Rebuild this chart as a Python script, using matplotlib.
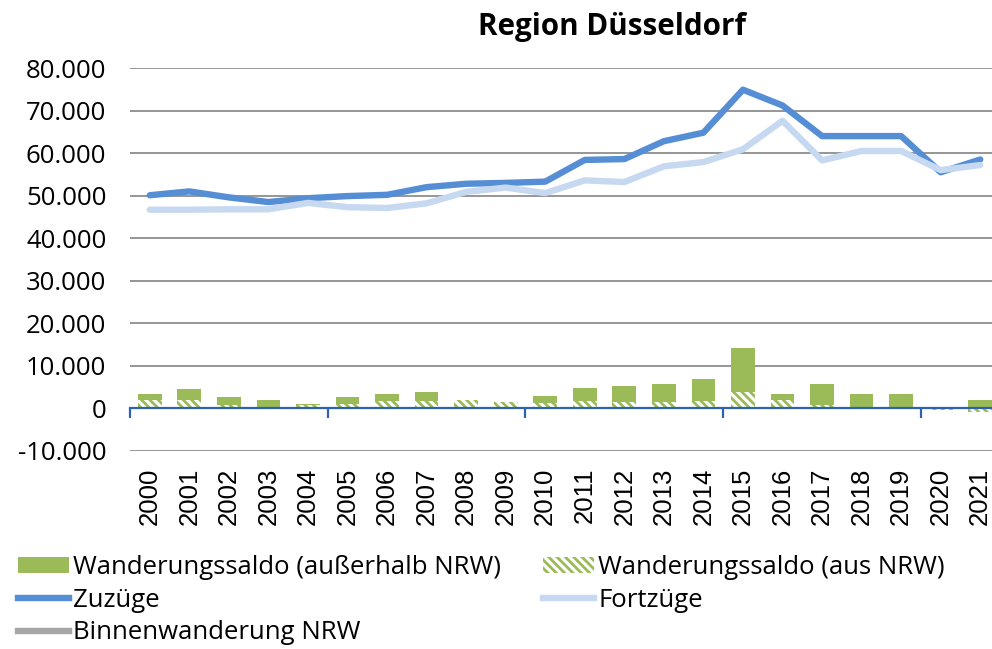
import numpy as np
import matplotlib
matplotlib.use("Agg")
import matplotlib.pyplot as plt
from matplotlib.patches import Patch
from matplotlib.lines import Line2D
from matplotlib.ticker import FuncFormatter, FixedLocator

# ---------------- data ----------------
years = [str(y) for y in range(2000, 2022)]
zuzuege = [50100, 51000, 49600, 48500, 49400, 49900, 50200, 52000, 52800, 53000, 53300,
           58400, 58600, 62800, 64800, 74900, 71200, 64000, 64000, 64000, 55500, 58500]
fortzuege = [46700, 46700, 46800, 46800, 48300, 47300, 47100, 48200, 50900, 51900, 50600,
             53600, 53200, 56900, 57900, 60900, 67600, 58300, 60500, 60500, 56000, 57200]
saldo_ausserhalb = [1400, 2600, 1900, 1900, 200, 1700, 1600, 2000, 0, 0, 1800,
                    3050, 3850, 4300, 5250, 10400, 1400, 5000, 2900, 3350, -100, 2000]
saldo_aus = [1950, 1950, 800, 100, 800, 1000, 1800, 1800, 2000, 1400, 1200,
             1650, 1500, 1500, 1650, 3850, 2100, 700, 400, 0, -300, -800]
y_ticks = list(range(-10000, 80001, 10000))

title = "Region Düsseldorf"
lbl_ausserhalb = "Wanderungssaldo (außerhalb NRW)"
lbl_aus = "Wanderungssaldo (aus NRW)"
lbl_zu = "Zuzüge"
lbl_fort = "Fortzüge"
lbl_binnen = "Binnenwanderung NRW"

# ---------------- style ----------------
c_bar = "#9BBB59"
c_zu = "#558ED5"
c_fort = "#C6D9F1"
c_binnen = "#A6A6A6"
c_axis = "#2E62B0"
c_grid = "#8E8E8E"
fs = 18.5
yfont = ["Open Sans", "DejaVu Sans"]
xfont = ["Liberation Sans", "DejaVu Sans"]
plt.rcParams["hatch.linewidth"] = 2.0
hatch_pat = "\\\\\\\\"

W, H = 992, 649
fig = plt.figure(figsize=(W / 100, H / 100), dpi=100)
ax = fig.add_axes([130 / W, (H - 451) / H, 870 / W, (451 - 68) / H])

x = np.arange(len(years))
aus = np.array(saldo_aus, dtype=float)
ausser = np.array(saldo_ausserhalb, dtype=float)
bottom_solid = np.where(ausser >= 0, np.maximum(aus, 0), np.minimum(aus, 0))

ax.bar(x, aus, width=0.6, color="white", edgecolor=c_bar, hatch=hatch_pat, linewidth=0, zorder=2)
ax.bar(x, ausser, bottom=bottom_solid, width=0.6, color=c_bar, linewidth=0, zorder=2)

ax.plot(x, zuzuege, color=c_zu, lw=4.6, solid_joinstyle="round", solid_capstyle="round", zorder=3)
ax.plot(x, fortzuege, color=c_fort, lw=4.6, solid_joinstyle="round", solid_capstyle="round", zorder=4)

ax.set_xlim(-0.5, len(years) - 0.5)
ax.set_ylim(-10000, 80000)
ax.set_yticks(y_ticks)
ax.yaxis.set_major_formatter(FuncFormatter(lambda v, p: f"{v:,.0f}".replace(",", ".")))
ax.grid(axis="y", color=c_grid, lw=1.3, zorder=0)
ax.set_axisbelow(True)
ax.tick_params(axis="y", length=0, pad=17)
for t in ax.get_yticklabels():
    t.set_fontfamily(yfont)
    t.set_fontsize(fs)

for s in ["top", "right", "left"]:
    ax.spines[s].set_visible(False)
ax.spines["bottom"].set_position(("data", 0))
ax.spines["bottom"].set_color(c_axis)
ax.spines["bottom"].set_linewidth(1.6)
ax.spines["bottom"].set_zorder(5)
ax.xaxis.set_major_locator(FixedLocator(np.arange(-0.5, len(years), 5)))
ax.tick_params(axis="x", direction="out", length=7, width=1.6, color=c_axis, labelbottom=False)

sec = ax.secondary_xaxis(0.0)
sec.set_xticks(x)
sec.set_xticklabels(years, rotation=90, fontsize=fs, family=xfont)
sec.tick_params(length=0, pad=12)
sec.spines["bottom"].set_visible(False)

fig.text(612.5 / W, 1 - 27 / H, title, ha="center", va="center", fontsize=21.3,
         fontweight="bold", family=yfont)

h_ausser = Patch(facecolor=c_bar, edgecolor="none")
h_aus = Patch(facecolor="white", edgecolor=c_bar, hatch=hatch_pat, linewidth=0)
h_zu = Line2D([], [], color=c_zu, lw=4.6)
h_fort = Line2D([], [], color=c_fort, lw=4.6)
h_binnen = Line2D([], [], color=c_binnen, lw=4.6)

common = dict(loc="upper left", frameon=False, borderpad=0, borderaxespad=0,
              handlelength=2.0, handleheight=0.55, handletextpad=0.15,
              labelspacing=0.3, prop={"family": yfont, "size": fs},
              bbox_transform=fig.transFigure)
leg1 = fig.legend([h_ausser, h_zu, h_binnen], [lbl_ausserhalb, lbl_zu, lbl_binnen],
                  bbox_to_anchor=(18 / W, 1 - 555 / H), **common)
leg2 = fig.legend([h_aus, h_fort], [lbl_aus, lbl_fort],
                  bbox_to_anchor=(543 / W, 1 - 555 / H), **common)

fig.savefig("out.png", dpi=100)
